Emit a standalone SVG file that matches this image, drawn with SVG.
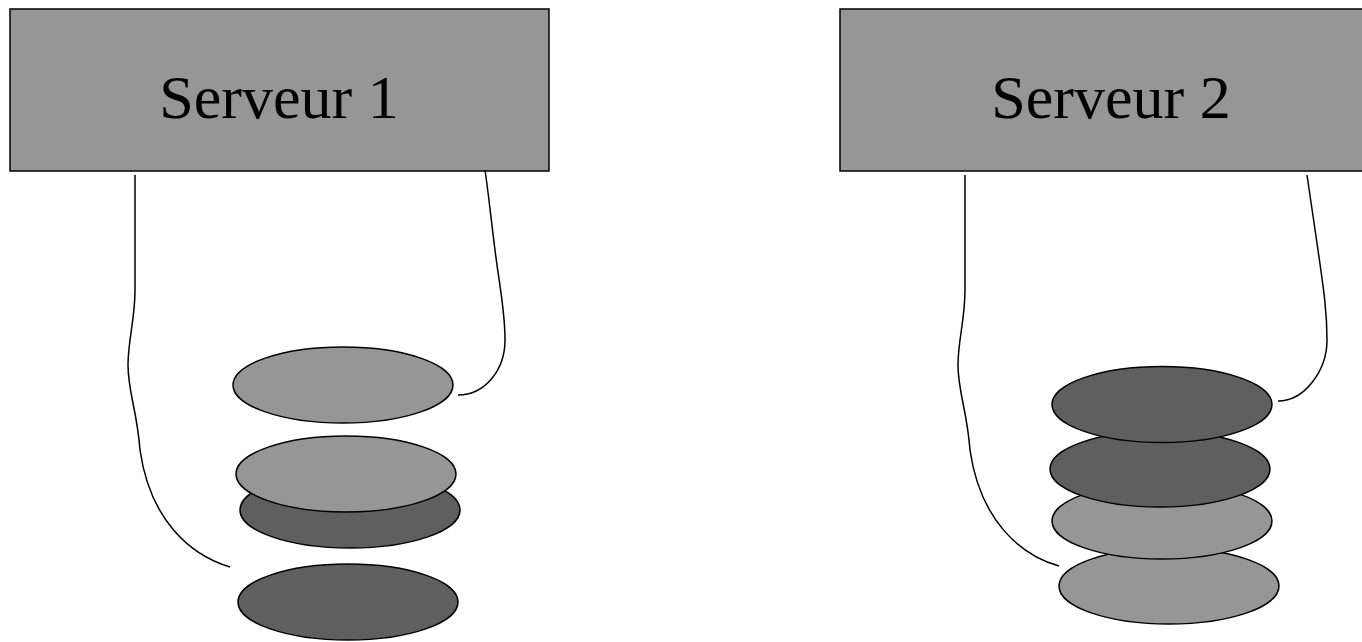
<svg xmlns="http://www.w3.org/2000/svg" width="1362" height="642" viewBox="0 0 1362 642">
<style>
.box{fill:#969696;stroke:#000;stroke-width:1.5}
.lbl{font-family:"Liberation Serif","Times New Roman",serif;font-size:62px;fill:#000;text-anchor:middle}
.light{fill:#969696;stroke:#000;stroke-width:1.5}
.dark{fill:#5f5f5f;stroke:#000;stroke-width:1.5}
.wire{fill:none;stroke:#000;stroke-width:1.5}
</style>
<rect width="1362" height="642" fill="#fff"/>
<g id="server1">
<rect class="box" x="10" y="9" width="539" height="162"/>
<text class="lbl" x="279" y="118">Serveur 1</text>
</g>
<g id="server2">
<rect class="box" x="840" y="9" width="530" height="162"/>
<text class="lbl" x="1111" y="118">Serveur 2</text>
</g>
<g id="disks1">
<ellipse id="d1a" class="light" cx="343" cy="385" rx="110" ry="38"/>
<ellipse id="d1b" class="dark" cx="350" cy="510" rx="110" ry="38"/>
<ellipse id="d1c" class="light" cx="346" cy="474" rx="110" ry="38"/>
<ellipse id="d1d" class="dark" cx="348" cy="602" rx="110" ry="38"/>
</g>
<g id="disks2">
<ellipse id="d2d" class="light" cx="1169" cy="586" rx="110" ry="38"/>
<ellipse id="d2c" class="light" cx="1162" cy="521" rx="110" ry="38"/>
<ellipse id="d2b" class="dark" cx="1160" cy="469" rx="110" ry="38"/>
<ellipse id="d2a" class="dark" cx="1162" cy="404.5" rx="110" ry="38"/>
</g>
<g id="connectors">
<path class="wire" d="M135,175 L135,290 C135,320 128,340 128,365 C128,392 137,410 140,450 C150,520 190,555 230,567"/>
<path class="wire" d="M485,170 C488,190 490,210 495,250 C500,290 505,310 505,340 C505,370 485,395 458,395"/>
<path class="wire" d="M965,175 L965,290 C965,320 958,340 958,365 C958,392 967,410 970,450 C980,520 1020,555 1059,566"/>
<path class="wire" d="M1307,175 C1310,195 1313,215 1318,250 C1323,285 1327,310 1327,340 C1327,370 1305,401 1278,401"/>
</g>
</svg>
